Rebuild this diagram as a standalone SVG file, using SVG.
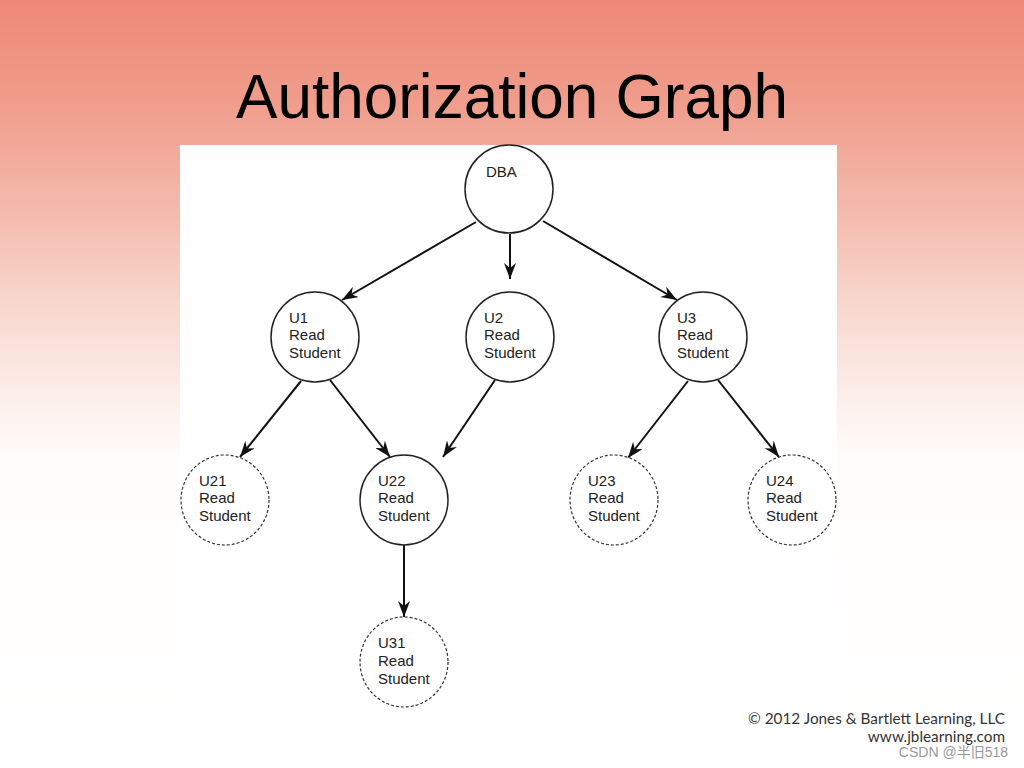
<svg xmlns="http://www.w3.org/2000/svg" width="1024" height="768" viewBox="0 0 1024 768">
<defs>
<linearGradient id="bg" x1="0" y1="0" x2="0" y2="768" gradientUnits="userSpaceOnUse">
<stop offset="0" stop-color="#ed8876"/>
<stop offset="0.13" stop-color="#f09c8b"/>
<stop offset="0.27" stop-color="#f3b9ab"/>
<stop offset="0.4" stop-color="#f8d8cf"/>
<stop offset="0.52" stop-color="#fcefea"/>
<stop offset="0.6" stop-color="#fffdfc"/>
<stop offset="1" stop-color="#ffffff"/>
</linearGradient>
<marker id="arr" viewBox="0 0 16 12" refX="16" refY="6" markerWidth="16" markerHeight="12" markerUnits="userSpaceOnUse" orient="auto">
<path d="M0,0 L16,6 L0,12 L5,6 Z" fill="#111"/>
</marker>
<style>
.node{fill:#fff;stroke:#222;stroke-width:1.5}
.dash{fill:#fff;stroke:#333;stroke-width:1.2;stroke-dasharray:3 2}
.lbl{font-family:"Liberation Sans",Arial,sans-serif;font-size:15px;fill:#222}
.edge{stroke:#111;stroke-width:2;fill:none;marker-end:url(#arr)}
</style>
</defs>
<rect x="0" y="0" width="1024" height="768" fill="url(#bg)"/>
<text x="512" y="118" text-anchor="middle" font-family="'Liberation Sans',Arial,sans-serif" font-size="63" textLength="552" lengthAdjust="spacingAndGlyphs" fill="#000">Authorization Graph</text>
<rect x="180" y="145" width="657" height="570" fill="#fff"/>
<g id="connectors">
<line class="edge" x1="476" y1="222" x2="342" y2="300"/>
<line class="edge" x1="510" y1="234" x2="510" y2="279"/>
<line class="edge" x1="543" y1="221" x2="677" y2="300"/>
<line class="edge" x1="301" y1="381" x2="240" y2="457"/>
<line class="edge" x1="330" y1="380" x2="390" y2="457"/>
<line class="edge" x1="495" y1="380" x2="443" y2="457"/>
<line class="edge" x1="688" y1="381" x2="628" y2="458"/>
<line class="edge" x1="718" y1="380" x2="779" y2="457"/>
<line class="edge" x1="404" y1="545" x2="404" y2="617"/>
</g>
<g id="DBA"><ellipse class="node" cx="509" cy="189" rx="44" ry="44"/><text class="lbl" x="486" y="177">DBA</text></g>
<g id="U1"><ellipse class="node" cx="315" cy="337" rx="44" ry="45"/><text class="lbl" x="289" y="323">U1</text><text class="lbl" x="289" y="340">Read</text><text class="lbl" x="289" y="358">Student</text></g>
<g id="U2"><ellipse class="node" cx="510" cy="337" rx="44" ry="45"/><text class="lbl" x="484" y="323">U2</text><text class="lbl" x="484" y="340">Read</text><text class="lbl" x="484" y="358">Student</text></g>
<g id="U3"><ellipse class="node" cx="703" cy="337" rx="44" ry="45"/><text class="lbl" x="677" y="323">U3</text><text class="lbl" x="677" y="340">Read</text><text class="lbl" x="677" y="358">Student</text></g>
<g id="U21"><ellipse class="dash" cx="225" cy="500" rx="44" ry="45"/><text class="lbl" x="199" y="486">U21</text><text class="lbl" x="199" y="503">Read</text><text class="lbl" x="199" y="521">Student</text></g>
<g id="U22"><ellipse class="node" cx="404" cy="500" rx="44" ry="45"/><text class="lbl" x="378" y="486">U22</text><text class="lbl" x="378" y="503">Read</text><text class="lbl" x="378" y="521">Student</text></g>
<g id="U23"><ellipse class="dash" cx="614" cy="500" rx="44" ry="45"/><text class="lbl" x="588" y="486">U23</text><text class="lbl" x="588" y="503">Read</text><text class="lbl" x="588" y="521">Student</text></g>
<g id="U24"><ellipse class="dash" cx="792" cy="500" rx="44" ry="45"/><text class="lbl" x="766" y="486">U24</text><text class="lbl" x="766" y="503">Read</text><text class="lbl" x="766" y="521">Student</text></g>
<g id="U31"><ellipse class="dash" cx="404" cy="662" rx="44" ry="45"/><text class="lbl" x="378" y="648">U31</text><text class="lbl" x="378" y="666">Read</text><text class="lbl" x="378" y="684">Student</text></g>
<text x="1005" y="724" text-anchor="end" font-family="Lato,'Liberation Sans',sans-serif" font-size="15.3" fill="#333">© 2012 Jones &amp; Bartlett Learning, LLC</text>
<text x="1005" y="742" text-anchor="end" font-family="Lato,'Liberation Sans',sans-serif" font-size="15.3" fill="#333">www.jblearning.com</text>
<text x="1008" y="757" text-anchor="end" font-family="'Liberation Sans','Noto Sans CJK SC',sans-serif" font-size="14" fill="#999">CSDN @半旧518</text>
</svg>
